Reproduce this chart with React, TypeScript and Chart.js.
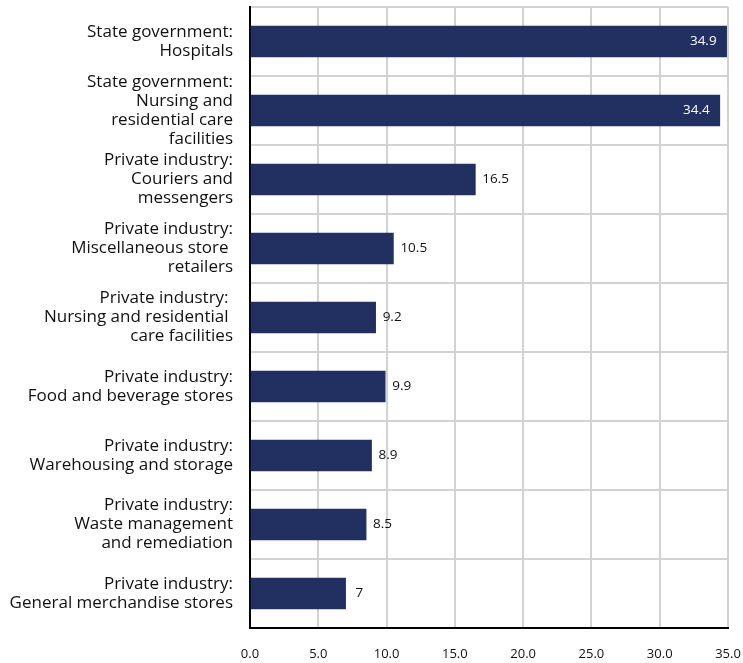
import React, { useEffect, useRef } from "react";
import { Chart, registerables } from "chart.js";

Chart.register(...registerables);

const categories: string[][] = [
  ["State government:", "Hospitals"],
  ["State government:", "Nursing and", "residential care", "facilities"],
  ["Private industry:", "Couriers and", "messengers"],
  ["Private industry:", "Miscellaneous store ", "retailers"],
  ["Private industry: ", "Nursing and residential ", "care facilities"],
  ["Private industry:", "Food and beverage stores"],
  ["Private industry:", "Warehousing and storage"],
  ["Private industry:", "Waste management", "and remediation"],
  ["Private industry:", "General merchandise stores"],
];
const values: number[] = [34.9, 34.4, 16.5, 10.5, 9.2, 9.9, 8.9, 8.5, 7];
const valueLabels: string[] = ["34.9", "34.4", "16.5", "10.5", "9.2", "9.9", "8.9", "8.5", "7"];
const xMin = 0;
const xMax = 35;
const xStep = 5;

const FONT = "'Open Sans', 'Noto Sans', sans-serif";
const BAR = "#212f61";

const valueLabelPlugin = {
  id: "valueLabels",
  afterDatasetsDraw(chart: any) {
    const ctx = chart.ctx;
    const meta = chart.getDatasetMeta(0);
    ctx.save();
    ctx.font = `13.5px ${FONT}`;
    ctx.textBaseline = "middle";
    meta.data.forEach((bar: any, i: number) => {
      const v = values[i];
      const text = valueLabels[i];
      if (v > 30) {
        ctx.fillStyle = "#ffffff";
        ctx.textAlign = "right";
        ctx.fillText(text, bar.x - 10, bar.y);
      } else {
        ctx.fillStyle = "#111111";
        ctx.textAlign = "left";
        ctx.fillText(text, bar.x + (text.length === 1 ? 10 : 7), bar.y);
      }
    });
    ctx.restore();
  },
};

export default function App() {
  const ref = useRef<HTMLCanvasElement>(null);
  useEffect(() => {
    document.body.style.margin = "0";
    const chart = new Chart(ref.current!, {
      type: "bar",
      data: {
        labels: categories as any,
        datasets: [
          {
            data: values,
            backgroundColor: BAR,
            borderWidth: 0,
            barThickness: 31,
          },
        ],
      },
      options: {
        indexAxis: "y",
        responsive: false,
        animation: false,
        maintainAspectRatio: false,
        layout: { padding: { top: 7, right: 15, left: 0, bottom: 0 } },
        plugins: {
          legend: { display: false },
          tooltip: { enabled: false },
        },
        scales: {
          x: {
            min: xMin,
            max: xMax,
            ticks: {
              stepSize: xStep,
              color: "#111111",
              font: { family: FONT, size: 13 },
              padding: 18,
              callback: (v: any) => Number(v).toFixed(1),
            },
            grid: { color: "#d2d2d2", lineWidth: 2, drawTicks: false },
            border: { display: true, color: "#000000", width: 2 },
            afterFit: (s: any) => {
              s.height = 35;
              s.paddingLeft = 0;
              s.paddingRight = 0;
            },
          },
          y: {
            ticks: {
              color: "#111111",
              font: { family: FONT, size: 17, lineHeight: 1.12 },
              padding: 17,
              autoSkip: false,
            },
            grid: { color: "#d2d2d2", lineWidth: 2, drawTicks: false, offset: true },
            border: { display: true, color: "#000000", width: 2 },
            afterFit: (s: any) => {
              s.width = 250;
              s.paddingTop = 0;
              s.paddingBottom = 0;
            },
          },
        },
      },
      plugins: [valueLabelPlugin],
    });
    return () => chart.destroy();
  }, []);
  return <canvas ref={ref} width={743} height={663} style={{ display: "block" }} />;
}
